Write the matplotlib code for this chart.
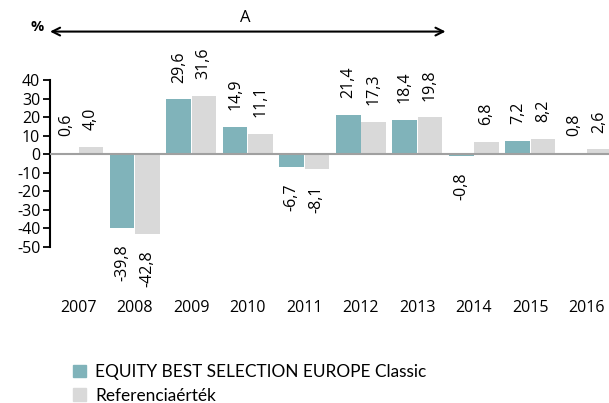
import matplotlib
matplotlib.use("Agg")
import matplotlib.pyplot as plt
import numpy as np
from matplotlib.patches import Patch

years = ["2007", "2008", "2009", "2010", "2011", "2012", "2013", "2014", "2015", "2016"]
fund = [0.6, -39.8, 29.6, 14.9, -6.7, 21.4, 18.4, -0.8, 7.2, 0.8]
bench = [4.0, -42.8, 31.6, 11.1, -8.1, 17.3, 19.8, 6.8, 8.2, 2.6]
yticks = [40, 30, 20, 10, 0, -10, -20, -30, -40, -50]
fund_name = "EQUITY BEST SELECTION EUROPE Classic"
bench_name = "Referenciaérték"

teal = "#80B3BA"
grey = "#D9D9D9"
font = "Open Sans"

fig = plt.figure(figsize=(6.09, 4.03), dpi=100)
ax = fig.add_axes([50/609, 1-247/403, 1-50/609+0.01, (247-80)/403])

x = np.arange(len(years))
w = 0.44
ax.bar(x - w/2 - 0.005, fund, width=w, color=teal, zorder=2)
ax.bar(x + w/2 + 0.005, bench, width=w, color=grey, zorder=2)
ax.axhline(0, color="#A0A0A0", lw=1.5, zorder=3)

ax.set_ylim(-50, 40)
ax.set_xlim(-0.5, 9.5)
ax.set_yticks(yticks)
ax.set_yticklabels([str(v) for v in yticks], fontfamily=font, fontsize=11.5)
ax.tick_params(axis="y", direction="out", length=5, width=1.3, color="black", pad=2)
ax.set_xticks(x)
ax.set_xticklabels(years, fontfamily=font, fontsize=11.5)
ax.tick_params(axis="x", length=0, pad=38)
for s in ["top", "right", "bottom"]:
    ax.spines[s].set_visible(False)
ax.spines["left"].set_linewidth(1.5)

def lab(xp, v):
    t = f"{v:.1f}".replace(".", ",")
    if v >= 0:
        ax.annotate(t, (xp, v), xytext=(0, 12), textcoords="offset points",
                    rotation=90, ha="center", va="bottom", fontfamily=font, fontsize=11.5)
    else:
        ax.annotate(t, (xp, v), xytext=(0, -12), textcoords="offset points",
                    rotation=90, ha="center", va="top", fontfamily=font, fontsize=11.5)

for i in range(len(years)):
    lab(x[i] - w/2, fund[i])
    lab(x[i] + w/2, bench[i])

# arrow
ax.annotate("", xy=(-0.5, 1.29), xytext=(6.5, 1.29), xycoords=("data", "axes fraction"),
            textcoords=("data", "axes fraction"),
            arrowprops=dict(arrowstyle="<->", color="black", lw=1.5,
                            shrinkA=0, shrinkB=0, mutation_scale=14), annotation_clip=False)
fig.text(245/609, 1-18/403, "A", ha="center", va="center", fontfamily=font, fontsize=12)
fig.text(37/609, 1-27/403, "%", ha="center", va="center", fontfamily=font, fontsize=10.5, fontweight="bold")

handles = [Patch(color=teal), Patch(color=grey)]
fig.legend(handles, [fund_name, bench_name], loc="upper left",
           bbox_to_anchor=(73/609, 1-364/403), frameon=False,
           prop={"family": "Lato", "size": 12.4}, handlelength=0.75, handleheight=0.75,
           handletextpad=0.55, labelspacing=0.45, borderpad=0, borderaxespad=0)

fig.savefig("out.png", dpi=100)
